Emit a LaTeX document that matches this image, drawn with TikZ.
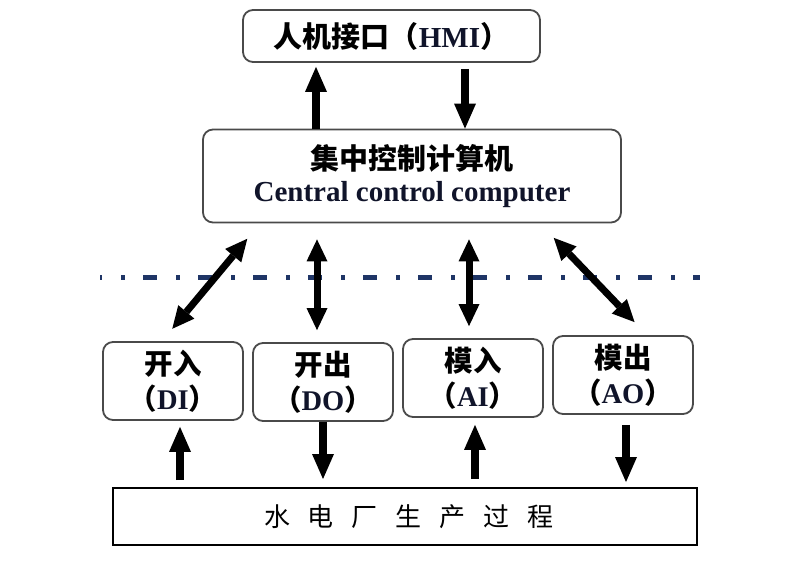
\documentclass[tikz,border=0pt]{standalone}
\usepackage{fontspec}
\setmainfont{Liberation Serif}
\newfontfamily\cjk{Noto Sans CJK SC}
\usetikzlibrary{arrows.meta}
\definecolor{ink}{HTML}{10142A}
\definecolor{rim}{HTML}{4A4A4A}
\definecolor{sep}{HTML}{1F3566}
\newcommand{\zh}[1]{{\cjk\bfseries #1}}
\newcommand{\en}[1]{{\bfseries\color{ink}#1}}
\tikzset{
  unit/.style={draw=rim, line width=1.8pt, rounded corners=10pt, fill=white,
    align=center, inner sep=0pt},
  io/.style={unit, minimum width=140pt, minimum height=78pt,
    font=\fontsize{28.5}{35}\selectfont},
  plantbox/.style={draw=black, line width=2pt, minimum width=584pt,
    minimum height=57pt, inner sep=0pt, font=\fontsize{26}{30}\selectfont\cjk},
  big/.style={line width=8pt, -{Triangle[length=25pt,width=22pt,line width=0pt]}},
  both/.style={line width=7pt,
    {Triangle[length=22pt,width=21pt,line width=0pt]}-{Triangle[length=22pt,width=21pt,line width=0pt]}},
  sepline/.style={draw=sep, line width=5pt,
    dash pattern=on 14pt off 19pt on 4pt off 18pt, dash phase=12pt},
}

\begin{document}
\begin{tikzpicture}[x=1pt, y=-1pt]
\useasboundingbox (0,0) rectangle (800,562);

% top: operator interface and the central computer
\node[unit, minimum width=297pt, minimum height=52pt,
  font=\fontsize{29}{32}\selectfont] (hmi) at (391.5,36)
  {\zh{人机接口（}\en{HMI}\zh{）}};
\node[unit, minimum width=418pt, minimum height=93pt,
  font=\fontsize{29}{32}\selectfont] (cc) at (412,176)
  {\zh{集中控制计算机}\\\en{Central control computer}};

\draw[big, shorten >=4pt] ([xshift=-96pt]cc.north) -- ([xshift=-96pt]cc.north |- hmi.south);
\draw[big, shorten <=6pt] ([xshift=53pt]cc.north |- hmi.south) -- ([xshift=53pt]cc.north);

% boundary between station level and unit level
\coordinate (sepL) at (100,277);
\coordinate (sepR) at (700,277);
\draw[sepline] (sepL) -- (sepR);

% the four I/O units
\node[io] (di) at (173,381) {\zh{开入}\\\zh{（}\en{DI}\zh{）}};
\node[io] (do) at (323,382) {\zh{开出}\\\zh{（}\en{DO}\zh{）}};
\node[io] (ai) at (473,378) {\zh{模入}\\\zh{（}\en{AI}\zh{）}};
\node[io] (ao) at (623,375) {\zh{模出}\\\zh{（}\en{AO}\zh{）}};

\draw[both, shorten <=16pt, shorten >=20pt] ([xshift=-11pt]di.north) -- ([xshift=58pt]cc.south west);
\draw[both, shorten <=16pt, shorten >=12pt] ([xshift=-95pt]cc.south) -- ([xshift=-95pt]cc.south |- do.north);
\draw[both, shorten <=16pt, shorten >=12pt] ([xshift=57pt]cc.south) -- ([xshift=57pt]cc.south |- ai.north);
\draw[both, shorten <=20pt, shorten >=18pt] ([xshift=-82pt]cc.south east) -- ([xshift=24pt]ao.north);

% the process
\node[plantbox] (plant) at (405,516.5)
  {\hspace{8pt}水\hspace{18pt}电\hspace{18pt}厂\hspace{18pt}生\hspace{18pt}产\hspace{18pt}过\hspace{18pt}程};

\draw[big, shorten <=7pt, shorten >=6pt] ([xshift=7pt]di.south |- plant.north) -- ([xshift=7pt]di.south);
\draw[big, shorten >=8pt] (do.south) -- (do.south |- plant.north);
\draw[big, shorten <=8pt, shorten >=7pt] ([xshift=2pt]ai.south |- plant.north) -- ([xshift=2pt]ai.south);
\draw[big, shorten <=10pt, shorten >=5pt] ([xshift=3pt]ao.south) -- ([xshift=3pt]ao.south |- plant.north);

\end{tikzpicture}
\end{document}
